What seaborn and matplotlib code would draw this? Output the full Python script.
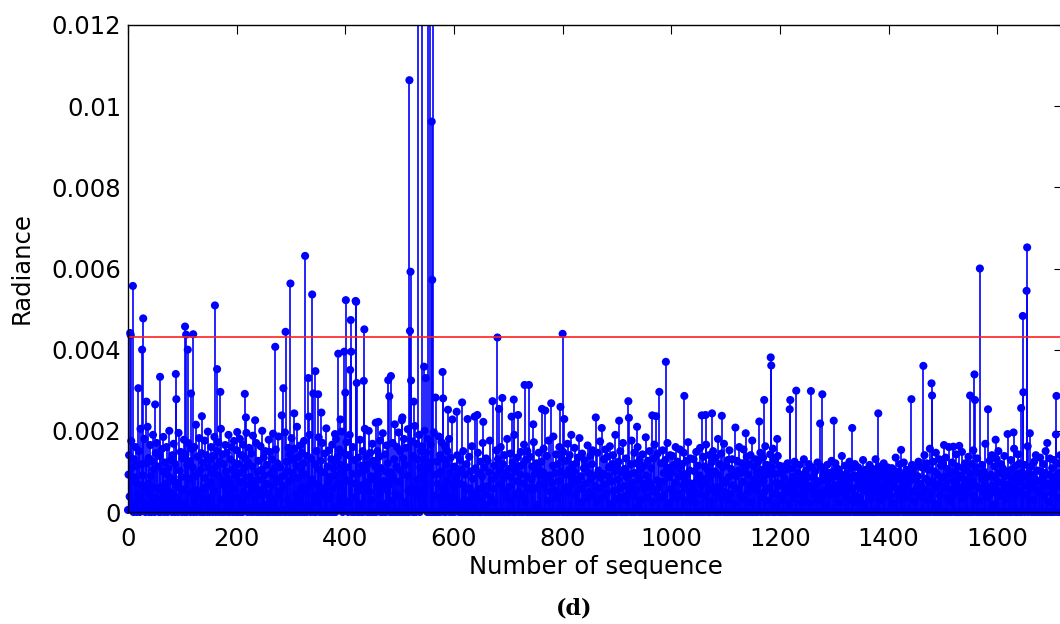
import numpy as np
import pandas as pd
import matplotlib
matplotlib.use("Agg")
import matplotlib.pyplot as plt
import seaborn as sns

# ---------------- data (radiance in units of 1e-5) ----------------
radiance_base_e5 = [
    5, 92, 140, 38, 0, 60, 175, 12, 110, 48, 0, 130, 85, 20, 160, 72, 0, 115, 44, 98,
    150, 30, 0, 205, 66, 118, 8, 90, 140, 25, 180, 55, 0, 120, 95, 14, 210, 70, 133, 0,
    42, 165, 88, 0, 125, 60, 190, 22, 105, 0, 78, 145, 35, 170, 9, 112, 58, 0, 138, 80,
    0, 62, 155, 28, 100, 185, 45, 0, 122, 70, 15, 160, 92, 0, 108, 50, 200, 32, 84, 128,
    18, 0, 140, 76, 168, 40, 0, 118, 95, 150, 26, 72, 0, 195, 60, 102, 10, 148, 86, 0,
    132, 55, 20, 178, 0, 90, 142, 64, 0, 116, 38, 170, 82, 6, 125, 0, 98, 155, 48, 110,
    70, 0, 160, 30, 88, 215, 0, 54, 136, 96, 12, 182, 40, 0, 104, 145, 66, 0, 122, 58,
    0, 176, 84, 24, 140, 62, 0, 198, 110, 35, 0, 128, 74, 160, 20, 95, 0, 138, 52, 185,
    44, 112, 0, 150, 68, 8, 172, 90, 0, 124, 56, 205, 30, 0, 142, 78, 118, 0, 64, 165,
    100, 28, 146, 0, 82, 190, 46, 0, 130, 72, 16, 160, 104, 0, 58, 175, 36, 120, 0, 88,
    152, 62, 0, 118, 34, 96, 180, 0, 74, 140, 22, 0, 166, 50, 108, 0, 132, 84, 195, 40,
    0, 122, 68, 158, 10, 86, 0, 144, 52, 112, 188, 0, 76, 30, 136, 60, 170, 0, 98, 14,
    126, 0, 80, 42, 162, 0, 104, 200, 56, 0, 134, 90, 18, 150, 0, 70, 116, 46, 0, 178,
    38, 148, 0, 94, 66, 130, 0, 172, 24, 106, 0, 60, 154, 82, 0, 120, 36, 186, 0, 74,
    110, 52, 0, 168, 88, 6, 140, 64, 0, 196, 48, 0, 124, 100, 30, 158, 0, 78, 142, 54,
    0, 182, 96, 20, 0, 128, 70, 156, 0, 44, 114, 210, 0, 84, 136, 26, 0, 164, 58, 102,
    146, 0, 62, 120, 36, 0, 176, 92, 50, 0, 138, 18, 0, 106, 190, 66, 0, 132, 80, 12,
    72, 160, 0, 40, 118, 94, 0, 150, 68, 24, 0, 184, 104, 0, 56, 126, 88, 0, 170, 46,
    0, 98, 144, 60, 0, 206, 32, 112, 0, 76, 152, 0, 86, 40, 130, 0, 166, 58, 108, 0,
    124, 48, 0, 180, 90, 14, 136, 0, 70, 154, 34, 0, 116, 198, 62, 0, 100, 146, 0, 82,
    40, 0, 172, 110, 26, 0, 140, 76, 190, 0, 58, 122, 0, 94, 160, 36, 0, 128, 70, 0,
    160, 84, 0, 52, 134, 0, 96, 178, 20, 0, 114, 66, 150, 0, 42, 186, 0, 104, 60, 138,
    0, 118, 74, 200, 0, 50, 146, 0, 88, 30, 168, 0, 126, 80, 0, 112, 220, 0, 64, 150,
    92, 0, 136, 44, 176, 0, 108, 62, 0, 194, 76, 20, 0, 142, 100, 0, 164, 54, 120, 0,
    66, 184, 0, 98, 140, 28, 0, 170, 82, 0, 130, 210, 46, 0, 112, 160, 0, 74, 196, 38,
    0, 150, 102, 0, 226, 68, 0, 132, 180, 24, 0, 116, 158, 0, 90, 204, 52, 0, 144, 86,
    120, 0, 174, 60, 0, 138, 96, 0, 212, 44, 0, 168, 80, 130, 0, 58, 190, 0, 110, 150,
    34, 162, 0, 88, 128, 0, 200, 70, 0, 146, 104, 0, 180, 56, 0, 122, 84, 166, 0, 98,
    146, 0, 112, 196, 40, 0, 158, 92, 0, 124, 70, 0, 186, 36, 140, 0, 100, 172, 60, 0,
    88, 130, 0, 164, 52, 0, 118, 76, 150, 0, 40, 180, 0, 96, 134, 22, 0, 144, 68, 110,
    60, 0, 112, 38, 84, 0, 140, 22, 96, 0, 70, 128, 10, 0, 104, 46, 0, 150, 66, 30,
    0, 92, 54, 118, 0, 76, 20, 0, 136, 58, 0, 100, 34, 162, 0, 82, 48, 0, 120, 14,
    108, 40, 0, 72, 146, 0, 56, 96, 0, 124, 28, 0, 88, 170, 0, 62, 110, 0, 44, 132,
    18, 0, 126, 64, 0, 98, 176, 0, 36, 80, 0, 142, 58, 0, 114, 24, 0, 90, 152, 0,
    74, 130, 0, 46, 102, 0, 160, 68, 0, 20, 118, 0, 84, 140, 0, 52, 96, 0, 180, 34,
    0, 106, 62, 0, 144, 86, 0, 30, 122, 0, 66, 190, 0, 100, 42, 0, 134, 76, 0, 112,
    50, 0, 92, 148, 0, 38, 116, 0, 70, 166, 0, 24, 128, 0, 88, 150, 0, 56, 104, 0,
    136, 60, 0, 80, 112, 0, 44, 172, 0, 94, 58, 0, 120, 18, 0, 106, 146, 0, 68, 90,
    0, 124, 40, 0, 98, 156, 0, 64, 110, 0, 82, 138, 0, 28, 176, 0, 90, 50, 0, 130,
    72, 0, 114, 186, 0, 54, 96, 0, 142, 36, 0, 118, 76, 0, 160, 44, 0, 100, 132, 0,
    30, 148, 0, 86, 60, 0, 126, 92, 0, 168, 48, 0, 104, 140, 0, 66, 20, 0, 116, 84,
    0, 100, 158, 0, 42, 120, 0, 76, 134, 0, 56, 182, 0, 88, 24, 0, 144, 62, 0, 108,
    128, 0, 70, 112, 0, 34, 164, 0, 96, 50, 0, 138, 80, 0, 118, 152, 0, 40, 90, 0,
    64, 116, 0, 26, 146, 0, 102, 58, 0, 174, 84, 0, 122, 36, 0, 94, 130, 0, 68, 154,
    0, 46, 136, 0, 88, 110, 0, 162, 20, 0, 76, 118, 0, 140, 52, 0, 100, 190, 0, 32,
    112, 0, 80, 124, 0, 58, 150, 0, 36, 98, 0, 170, 64, 0, 106, 28, 0, 132, 86, 0,
    44, 138, 0, 92, 60, 0, 118, 176, 0, 72, 40, 0, 146, 96, 0, 54, 120, 0, 160, 14,
    0, 84, 128, 0, 104, 30, 0, 142, 70, 0, 114, 56, 0, 184, 90, 0, 38, 126, 0, 74,
    150, 0, 62, 108, 0, 90, 26, 0, 132, 166, 0, 48, 100, 0, 78, 144, 0, 60, 112, 0,
    36, 120, 0, 74, 152, 0, 96, 42, 0, 128, 62, 0, 110, 170, 0, 22, 86, 0, 140, 56,
    0, 98, 138, 0, 50, 116, 0, 72, 160, 0, 34, 124, 0, 88, 108, 0, 154, 46, 0, 92,
    118, 0, 66, 146, 0, 80, 28, 0, 126, 94, 0, 172, 52, 0, 102, 132, 0, 70, 38, 0,
    56, 130, 0, 100, 24, 0, 148, 76, 0, 114, 46, 0, 90, 158, 0, 64, 120, 0, 82, 136,
    0, 40, 112, 0, 166, 70, 0, 104, 54, 0, 140, 86, 0, 26, 122, 0, 96, 150, 0, 60,
    100, 0, 134, 48, 0, 92, 180, 0, 62, 118, 0, 36, 144, 0, 78, 110, 0, 168, 50, 0,
    72, 116, 0, 30, 128, 0, 86, 152, 0, 44, 106, 0, 130, 66, 0, 94, 20, 0, 140, 88,
    0, 126, 58, 0, 102, 160, 0, 42, 96, 0, 120, 74, 0, 154, 32, 0, 108, 84, 0, 136,
    48, 0, 92, 118, 0, 66, 140, 0, 24, 176, 0, 80, 112, 0, 56, 130, 0, 98, 62, 0,
    124, 70, 0, 88, 146, 0, 38, 104, 0, 134, 76, 0, 50, 162, 0, 92, 116, 0, 28, 100,
    0, 60, 142, 0, 82, 110, 0, 156, 46, 0, 94, 128, 0, 72, 18, 0, 138, 64, 0, 114,
    40, 0, 96, 70, 0, 112, 30, 0, 84, 58, 0, 104, 46, 0, 120, 66, 0, 20, 92, 0,
    76, 50, 0, 108, 34, 0, 88, 124, 0, 62, 14, 0, 98, 72, 0, 44, 116, 0, 80, 26,
    0, 92, 60, 0, 130, 38, 0, 70, 102, 0, 54, 86, 0, 118, 22, 0, 64, 96, 0, 110,
    58, 0, 84, 42, 0, 100, 66, 0, 28, 122, 0, 76, 48, 0, 94, 112, 0, 36, 68, 0,
    90, 104, 0, 52, 78, 0, 18, 116, 0, 64, 96, 0, 40, 82, 0, 126, 56, 0, 100, 30,
    0, 66, 120, 0, 44, 88, 0, 106, 60, 0, 24, 94, 0, 72, 138, 0, 50, 80, 0, 62,
    114, 0, 38, 96, 0, 70, 52, 0, 124, 84, 0, 30, 108, 0, 58, 90, 0, 42, 118, 0,
    26, 82, 0, 64, 110, 0, 92, 36, 0, 100, 74, 0, 56, 128, 0, 20, 86, 0, 104, 68,
    0, 48, 98, 0, 76, 116, 0, 60, 32, 0, 88, 106, 0, 46, 74, 0, 130, 54, 0, 94,
    70, 0, 112, 28, 0, 84, 62, 0, 102, 46, 0, 120, 66, 0, 38, 96, 0, 78, 110, 0,
    52, 92, 0, 74, 40, 0, 108, 86, 0, 22, 64, 0, 96, 134, 0, 58, 80, 0, 44, 100,
    0, 118, 56, 0, 90, 30, 0, 72, 122, 0, 48, 84, 0, 104, 62, 0, 36, 98, 0, 76,
    106, 0, 68, 116, 0, 50, 94, 0, 26, 80, 0, 112, 60, 0, 88, 124, 0, 42, 70, 0,
    64, 110, 0, 38, 96, 0, 140, 54, 0, 82, 120, 0, 30, 104, 0, 72, 156, 0, 48, 90,
    0, 76, 124, 0, 58, 100, 0, 146, 20, 0, 92, 68, 0, 130, 42, 0, 114, 84, 0, 60,
    118, 0, 50, 88, 0, 134, 72, 0, 36, 106, 0, 160, 56, 0, 94, 26, 0, 122, 78, 0,
    44, 98, 0, 70, 142, 0, 60, 112, 0, 84, 128, 0, 52, 90, 0, 148, 34, 0, 106, 66,
    0, 120, 80, 0, 46, 102, 0, 136, 62, 0, 24, 94, 0, 118, 76, 0, 152, 40, 0, 88,
    110, 0, 64, 132, 0, 28, 96, 0, 144, 58, 0, 82, 116, 0, 50, 100, 0, 70, 168, 0,
    36, 86, 0, 104, 60, 0, 126, 44, 0, 92, 140, 0, 66, 18, 0, 112, 84, 0, 56, 130,
    0, 74, 150, 0, 96, 40, 0, 118, 72, 0, 108, 54, 0, 138, 88, 0, 32, 100, 0, 124,
    68, 0, 90, 46, 0, 128, 104, 0, 60, 82, 0, 156, 38, 0, 114, 70, 0, 94, 142, 0,
    52, 120, 0, 78, 34, 0, 98, 136, 0, 64, 116, 0, 86, 42, 0, 106, 162, 0, 72, 58,
    0, 94, 112, 0, 66, 88, 0, 30, 124, 0, 80, 140, 0, 56, 102, 0, 76, 48, 0, 134,
    100, 0, 58, 84, 0, 118, 40, 0, 96, 150, 0, 70, 110, 0, 26, 92, 0, 132, 62, 0,
    46, 108, 0, 76, 128, 0, 54, 88, 0, 104, 70, 0, 120, 36, 0, 96, 140, 0, 62, 84,
]

# prominent peaks (sequence number, radiance in 1e-5)
peak_index = [4, 5, 9, 19, 26, 28, 34, 50, 59, 88, 89, 105, 107, 110, 116, 120, 136,
              160, 164, 170, 201, 215, 217, 234, 267, 271, 283, 286, 290, 299, 306,
              324, 326, 332, 333, 339, 341, 345, 350, 356, 381, 387, 391, 398, 400,
              401, 409, 410, 411, 419, 420, 421, 434, 435, 436, 461, 479, 481, 484,
              491, 505, 518, 519, 520, 521, 526, 534, 542, 545, 548, 553, 556, 559,
              560, 562, 566, 579, 580, 589, 597, 605, 615, 625, 638, 643, 654, 671,
              680, 683, 689, 706, 710, 718, 730, 738, 746, 762, 768, 779, 796, 800,
              803, 816, 861, 872, 904, 921, 922, 937, 965, 972, 978, 990, 1024, 1056,
              1063, 1075, 1093, 1118, 1137, 1162, 1171, 1183, 1184, 1195, 1218, 1219,
              1230, 1257, 1274, 1278, 1299, 1333, 1381, 1423, 1442, 1464, 1479, 1480,
              1502, 1519, 1530, 1550, 1558, 1559, 1568, 1583, 1597, 1619, 1630, 1644,
              1647, 1648, 1654, 1655, 1660, 1692, 1708, 1709]
peak_value_e5 = [441, 436, 557, 305, 400, 477, 272, 265, 333, 340, 278, 457, 437, 400, 292, 438, 236,
                 509, 352, 296, 197, 291, 233, 226, 193, 407, 238, 305, 444, 563, 243,
                 175, 631, 330, 235, 536, 292, 347, 290, 245, 192, 390, 228, 395, 294,
                 522, 350, 473, 395, 520, 518, 318, 323, 450, 205, 222, 325, 285, 335,
                 216, 233, 1064, 446, 592, 324, 272, 2000, 2000, 358, 330, 2000, 2000, 962,
                 572, 2000, 282, 345, 280, 252, 228, 247, 270, 229, 235, 239, 222, 273,
                 430, 254, 281, 235, 277, 239, 313, 313, 216, 254, 250, 268, 259, 439,
                 229, 190, 233, 207, 225, 273, 232, 210, 238, 236, 296, 370, 286, 238,
                 239, 243, 237, 208, 194, 223, 276, 381, 361, 180, 253, 276,
                 299, 298, 218, 290, 225, 207, 243, 153, 278, 360, 317, 287,
                 165, 161, 163, 287, 339, 276, 600, 253, 178, 192, 196, 256,
                 483, 295, 545, 652, 194, 170, 191, 286]

threshold = 0.00432
x_ticks = [0, 200, 400, 600, 800, 1000, 1200, 1400, 1600]
y_ticks = [0, 0.002, 0.004, 0.006, 0.008, 0.010, 0.012]
y_tick_labels = ["0", "0.002", "0.004", "0.006", "0.008", "0.01", "0.012"]
x_label = "Number of sequence"
y_label = "Radiance"
caption = "(d)"

# ---------------- assemble ----------------
vals = np.array(radiance_base_e5, dtype=float)
vals[np.array(peak_index)] = np.array(peak_value_e5, dtype=float)
radiance = vals * 1e-5
df = pd.DataFrame({"seq": np.arange(len(radiance)), "radiance": radiance})

sns.set_theme(style="white")
plt.rcParams["font.family"] = ["DejaVu Sans"]

W, H = 1060, 624
fig = plt.figure(figsize=(W / 100, H / 100), dpi=100)
ax = fig.add_axes([128 / W, (H - 512) / H, (1063 - 128) / W, 487 / H])

ymax = 0.012
blue = "#0000ff"
ax.vlines(df["seq"], 0, df["radiance"], colors=blue, linewidth=1.2, zorder=2)
shown = df[df["radiance"] <= ymax]
sns.scatterplot(data=shown, x="seq", y="radiance", ax=ax, color=blue, s=34,
                edgecolor="none", linewidth=0, zorder=3, legend=False, clip_on=False)
ax.axhline(threshold, color="#ff2020", linewidth=1.2, zorder=4)

ax.set_xlim(0, 1721)
ax.set_ylim(0, ymax)
ax.set_xticks(x_ticks)
ax.set_xticklabels([str(t) for t in x_ticks])
ax.set_yticks(y_ticks)
ax.set_yticklabels(y_tick_labels)
ax.tick_params(direction="in", length=6.5, width=0.8, top=True, right=True,
               labelsize=17.5, colors="black")
ax.tick_params(axis="x", pad=11)
ax.tick_params(axis="y", pad=5)
for sp in ax.spines.values():
    sp.set_color("black")
    sp.set_linewidth(1.0)
    sp.set_zorder(5)

ax.set_xlabel(x_label, fontsize=17.5, color="black", labelpad=3)
ax.set_ylabel(y_label, fontsize=17.5, color="black", labelpad=13)
fig.text(574 / W, (H - 609) / H, caption, ha="center", va="center",
         fontsize=16, fontweight="bold", family="DejaVu Serif", color="black")

fig.savefig("out.png", dpi=100)
